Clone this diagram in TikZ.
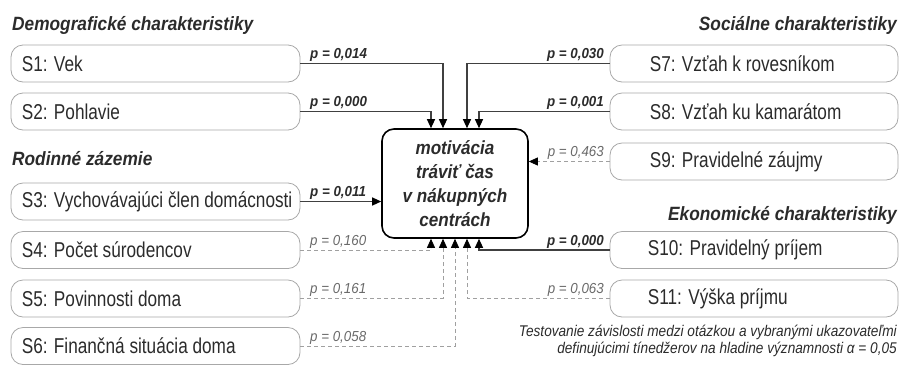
\documentclass[tikz,border=0pt]{standalone}
\usepackage{fontspec}
\setmainfont{Liberation Sans}
\newfontfamily\boxfont[FakeStretch=0.8]{Liberation Sans}
\newfontfamily\headfont[FakeStretch=0.9]{Liberation Sans}
\newfontfamily\pfont[FakeStretch=0.92]{Liberation Sans}
\newfontfamily\notefont[FakeStretch=0.88]{Liberation Sans}
\usetikzlibrary{arrows.meta,calc}
\definecolor{txt}{HTML}{2B2B2B}
\definecolor{pgray}{HTML}{6A6A6A}
\definecolor{boxgray}{HTML}{A8A8A8}
\definecolor{linedark}{HTML}{404040}
\definecolor{linegray}{HTML}{A0A0A0}
\tikzset{
  every node/.style={inner sep=0pt, text=txt},
  lbox/.style={draw=boxgray, line width=0.8pt, rounded corners=12pt, minimum width=289pt, minimum height=37pt},
  rbox/.style={lbox, minimum width=288pt},
  btext/.style={font=\boxfont\fontsize{21.5}{24}\selectfont, anchor=west},
  head/.style={font=\headfont\bfseries\itshape\fontsize{19.2}{22}\selectfont},
  psig/.style={font=\pfont\bfseries\itshape\fontsize{14.5}{16}\selectfont},
  pns/.style={font=\pfont\itshape\fontsize{14.5}{16}\selectfont, text=pgray},
  notestyle/.style={font=\notefont\itshape\fontsize{15.5}{17}\selectfont, anchor=base east},
  cbox/.style={draw=black, line width=1.6pt, rounded corners=12pt, minimum width=146pt, minimum height=109pt, align=center, font=\headfont\bfseries\itshape\fontsize{19}{24}\selectfont},
  sig/.style={draw=linedark, line width=1.2pt, -{Triangle[width=8pt,length=9pt,color=black]}},
  ns/.style={draw=linegray, line width=0.8pt, dash pattern=on 4pt off 3pt, -{Triangle[width=8pt,length=9pt,color=black]}}
}
\begin{document}
\begin{tikzpicture}[x=1pt,y=-1pt]
\useasboundingbox (0,0) rectangle (901,365);
% headings
\node[head, anchor=base west] (h1) at (12,30) {Demografické charakteristiky};
\node[head, anchor=base west] (h2) at (12,165) {Rodinné zázemie};
\node[head, anchor=base east] (h3) at (897,30) {Sociálne charakteristiky};
\node[head, anchor=base east] (h4) at (897,220) {Ekonomické charakteristiky};
% center
\node[cbox] (c) at (455,183.5) {motivácia\\tráviť čas\\v nákupných\\centrách};
% left boxes
\node[lbox] (s1) at (155.5,63.5) {};
\node[lbox] (s2) at (155.5,111.5) {};
\node[lbox] (s3) at (155.5,201.5) {};
\node[lbox] (s4) at (155.5,250) {};
\node[lbox] (s5) at (155.5,298.5) {};
\node[lbox] (s6) at (155.5,346) {};
\node[btext] (t1) at ([xshift=11pt]s1.west) {S1: Vek};
\node[btext] (t2) at ([xshift=11pt]s2.west) {S2: Pohlavie};
\node[btext] (t3) at ([xshift=11pt]s3.west) {S3: Vychovávajúci člen domácnosti};
\node[btext] (t4) at ([xshift=11pt]s4.west) {S4: Počet súrodencov};
\node[btext] (t5) at ([xshift=11pt]s5.west) {S5: Povinnosti doma};
\node[btext] (t6) at ([xshift=11pt]s6.west) {S6: Finančná situácia doma};
% right boxes
\node[rbox] (s7) at (754,63.5) {};
\node[rbox] (s8) at (754,111.5) {};
\node[rbox] (s9) at (754,161.5) {};
\node[rbox] (s10) at (754,250) {};
\node[rbox] (s11) at (754,298.5) {};
\node[btext] (t7) at ([xshift=40pt]s7.west) {S7: Vzťah k rovesníkom};
\node[btext] (t8) at ([xshift=40pt]s8.west) {S8: Vzťah ku kamarátom};
\node[btext] (t9) at ([xshift=40pt]s9.west) {S9: Pravidelné záujmy};
\node[btext] (t10) at ([xshift=38pt]s10.west) {S10: Pravidelný príjem};
\node[btext] (t11) at ([xshift=38pt]s11.west) {S11: Výška príjmu};
% connectors
\draw[sig] (s1.east) -| ([xshift=-12pt]c.north);
\draw[sig] (s2.east) -| ([xshift=-24pt]c.north);
\draw[sig] (s7.west) -| ([xshift=12pt]c.north);
\draw[sig] (s8.west) -| ([xshift=24pt]c.north);
\draw[sig] (s3.east) -- (s3.east -| c.west);
\draw[ns] (s9.west) -- (s9.west -| c.east);
\draw[ns] (s4.east) -| ([xshift=-24pt]c.south);
\draw[ns] (s5.east) -| ([xshift=-12pt]c.south);
\draw[ns] (s6.east) -| (c.south);
\draw[ns] (s11.west) -| ([xshift=12pt]c.south);
\draw[sig] (s10.west) -| ([xshift=24pt]c.south);
% p labels
\node[psig, anchor=base west] (p1) at (310,58) {p = 0,014};
\node[psig, anchor=base west] (p2) at (310,106.5) {p = 0,000};
\node[psig, anchor=base west] (p3) at (310,196.5) {p = 0,011};
\node[pns, anchor=base west] (p4) at (310,245) {p = 0,160};
\node[pns, anchor=base west] (p5) at (310,293.5) {p = 0,161};
\node[pns, anchor=base west] (p6) at (310,341) {p = 0,058};
\node[psig, anchor=base east] (p7) at (604,58) {p = 0,030};
\node[psig, anchor=base east] (p8) at (604,106.5) {p = 0,001};
\node[pns, anchor=base east] (p9) at (604,156.5) {p = 0,463};
\node[psig, anchor=base east] (p10) at (604,245) {p = 0,000};
\node[pns, anchor=base east] (p11) at (604,293.5) {p = 0,063};
% note
\node[notestyle] (n1) at (897,336) {Testovanie závislosti medzi otázkou a vybranými ukazovateľmi};
\node[notestyle] (n2) at (897,353) {definujúcimi tínedžerov na hladine významnosti α = 0,05};
\end{tikzpicture}
\end{document}
